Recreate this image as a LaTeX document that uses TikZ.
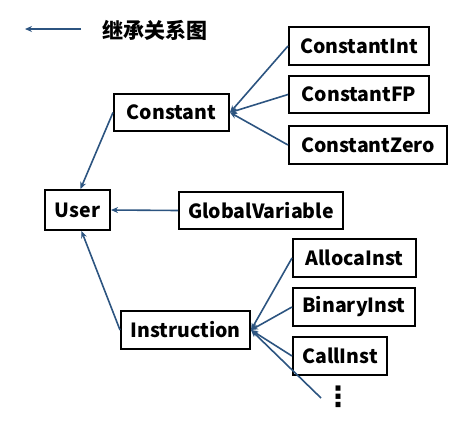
\documentclass[tikz,border=0pt]{standalone}
\usepackage{fontspec}
\usetikzlibrary{arrows.meta}
\setmainfont{Noto Sans CJK SC}
\newfontfamily\dejavu{DejaVu Sans}
\definecolor{lineblue}{RGB}{44,84,128}
\tikzset{
  box/.style={draw=black, line width=2pt, font=\fontsize{19.5}{22}\selectfont\bfseries, inner sep=0pt, anchor=center},
  arr/.style={draw=lineblue, line width=1.6pt, -{Stealth[length=7pt,width=6pt]}},
}
\begin{document}
\begin{tikzpicture}[x=1pt,y=-1pt]
\useasboundingbox (0,0) rectangle (471,429);
% legend
\coordinate (lgA) at (81,29);
\coordinate (lgB) at (25,29);
\draw[arr] (lgA) -- (lgB);
\node[font=\fontsize{21}{24}\selectfont\bfseries, anchor=west, inner sep=0pt] (lgtext) at (102,30) {继承关系图};
% nodes
\node[box, minimum width=115pt, minimum height=37pt] (Constant) at (171.5,112.5) {Constant};
\node[box, minimum width=65pt, minimum height=40pt] (User) at (77.5,210) {User};
\node[box, minimum width=164pt, minimum height=37pt] (GV) at (261,210.5) {GlobalVariable};
\node[box, minimum width=129pt, minimum height=38pt] (Instr) at (185.5,330) {Instruction};
\node[box, minimum width=140pt, minimum height=38pt] (CInt) at (359,46) {ConstantInt};
\node[box, minimum width=140pt, minimum height=37pt] (CFP) at (359,94.5) {ConstantFP};
\node[box, minimum width=158pt, minimum height=38pt] (CZero) at (368,145) {ConstantZero};
\node[box, minimum width=123pt, minimum height=38pt] (Alloca) at (354.5,258) {AllocaInst};
\node[box, minimum width=122pt, minimum height=38pt] (Binary) at (354,307) {BinaryInst};
\node[box, minimum width=94pt, minimum height=38pt] (Call) at (340,356) {CallInst};
\node[font=\fontsize{28}{30}\selectfont\bfseries\dejavu, inner sep=0pt] (dots) at (338,397) {⋮};
\coordinate (dotsEnd) at (321,398);
% connectors
\draw[arr] (Constant.west) -- ([xshift=3pt]User.north);
\draw[arr] (Instr.west) -- ([xshift=4pt]User.south);
\draw[arr] (GV.west) -- (User.east);
\draw[arr] (CInt.west) -- (Constant.east);
\draw[arr] (CFP.west) -- (Constant.east);
\draw[arr] (CZero.west) -- (Constant.east);
\draw[arr] (Alloca.west) -- (Instr.east);
\draw[arr] (Binary.west) -- (Instr.east);
\draw[arr] (Call.west) -- (Instr.east);
\draw[arr] (dotsEnd) -- (Instr.east);
\end{tikzpicture}
\end{document}
